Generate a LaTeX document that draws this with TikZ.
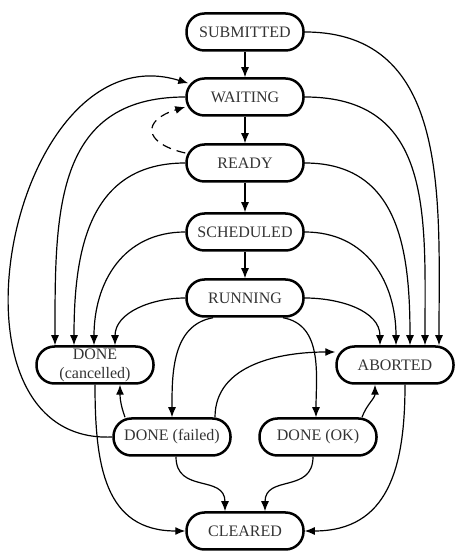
\documentclass[tikz,border=0pt]{standalone}
\usepackage{fontspec}
\setmainfont{Liberation Serif}
\usetikzlibrary{arrows.meta}
\tikzset{
  job state/.style={draw, line width=2.5pt, rounded corners=18pt, minimum width=117pt,
    minimum height=37pt, inner sep=2pt, align=center, text=black!80,
    font=\fontsize{16}{19}\selectfont},
  job move/.style={line width=1.2pt, ->},
  job retry/.style={job move, dash pattern=on 9pt off 6pt},
}
\begin{document}
\begin{tikzpicture}[x=1pt,y=1pt,>={Latex[length=10pt,width=8pt]}]
\useasboundingbox (0,0) rectangle (456,551);
\node[job state] (sub) at (245,519) {SUBMITTED};
\node[job state] (wait) at (245,454) {WAITING};
\node[job state] (ready) at (245,388) {READY};
\node[job state] (sched) at (245,319) {SCHEDULED};
\node[job state] (run) at (245,253) {RUNNING};
\node[job state] (donec) at (95,186) {DONE\\(cancelled)};
\node[job state] (abort) at (395,186) {ABORTED};
\node[job state] (donef) at (172,114) {DONE (failed)};
\node[job state] (donek) at (318,114) {DONE (OK)};
\node[job state] (clear) at (245,20) {CLEARED};
\draw[job move] (sub) -- (wait);
\draw[job move] (wait) -- (ready);
\draw[job move] (ready) -- (sched);
\draw[job move] (sched) -- (run);
\draw[job retry] ([yshift=10pt]ready.west) .. controls +(-43,10) and +(-43,-13) .. ([yshift=-10pt]wait.west);
\draw[job move] (donef.west) .. controls +(-183,-8) and +(-178,55) .. ([shift={(3pt,-6pt)}]wait.north west);
\draw[job move] (wait.west) to[out=180,in=90,looseness=1.2] ([xshift=-40pt]donec.north);
\draw[job move] (ready.west) to[out=180,in=90,looseness=1.15] ([xshift=-21pt]donec.north);
\draw[job move] (sched.west) to[out=180,in=90,looseness=1.1] ([xshift=-1pt]donec.north);
\draw[job move] (run.west) to[out=180,in=90] ([xshift=20pt]donec.north);
\draw[job move] (sub.east) to[out=0,in=90,looseness=1.1] ([xshift=44pt]abort.north);
\draw[job move] (wait.east) to[out=0,in=90,looseness=1.2] ([xshift=30pt]abort.north);
\draw[job move] (ready.east) to[out=0,in=90,looseness=1.15] ([xshift=15pt]abort.north);
\draw[job move] (sched.east) to[out=0,in=90,looseness=1.1] ([xshift=1pt]abort.north);
\draw[job move] (run.east) to[out=0,in=90] ([xshift=-15pt]abort.north);
\draw[job move] ([xshift=-32pt]run.south) to[out=190,in=90] (donef.north);
\draw[job move] ([xshift=38pt]run.south) to[out=-10,in=90] ([xshift=-2pt]donek.north);
\draw[job move] ([xshift=43pt]donef.north) to[out=90,in=180] ([yshift=13pt]abort.west);
\draw[job move] ([xshift=-47pt]donef.north) to[out=110,in=-90] ([xshift=25pt]donec.south);
\draw[job move] ([xshift=44pt]donek.north) to[out=70,in=-90] ([xshift=-20pt]abort.south);
\draw[job move] (donec.south) to[out=-90,in=180,looseness=1.2] (clear.west);
\draw[job move] ([xshift=4pt]donef.south) to[out=-90,in=90,looseness=1.3] ([xshift=-20pt]clear.north);
\draw[job move] ([xshift=-5pt]donek.south) to[out=-90,in=90,looseness=1.3] ([xshift=20pt]clear.north);
\draw[job move] ([xshift=10pt]abort.south) to[out=-90,in=0,looseness=1.2] (clear.east);
\end{tikzpicture}
\end{document}
